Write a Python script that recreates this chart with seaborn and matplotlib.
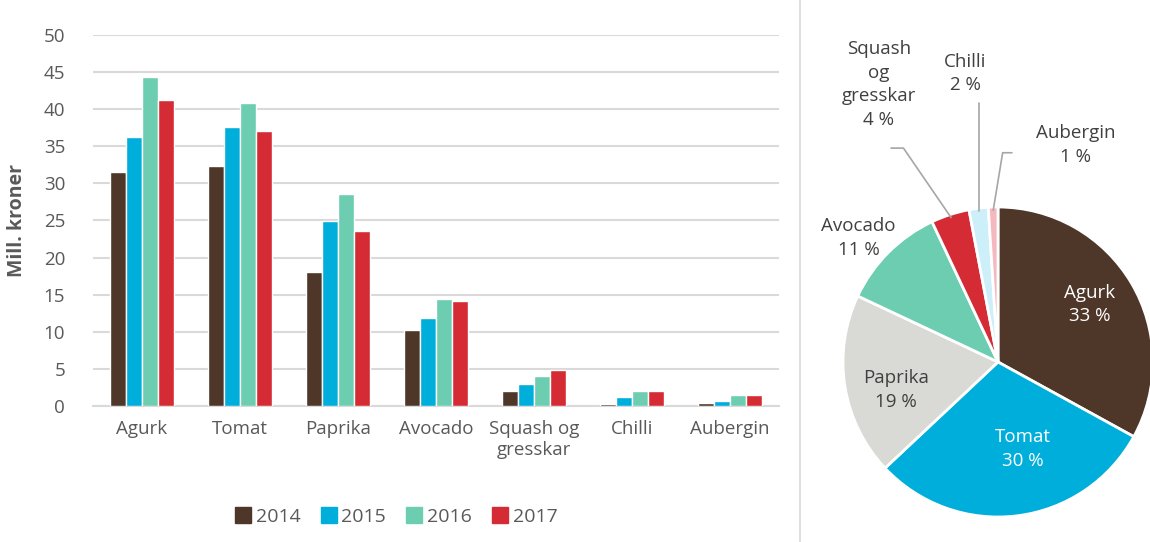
import numpy as np
import pandas as pd
import seaborn as sns
import matplotlib.pyplot as plt
from matplotlib.lines import Line2D

# data
kategorier = ['Agurk', 'Tomat', 'Paprika', 'Avocado', 'Squash og\ngresskar', 'Chilli', 'Aubergin']
aar = ['2014', '2015', '2016', '2017']
v2014 = [31.5, 32.4, 18.1, 10.2, 2.0, 0.3, 0.45]
v2015 = [36.3, 37.6, 24.9, 11.9, 3.0, 1.2, 0.65]
v2016 = [44.4, 40.9, 28.6, 14.4, 4.0, 2.0, 1.5]
v2017 = [41.3, 37.1, 23.6, 14.2, 4.9, 2.0, 1.5]

pie_navn = ['Agurk', 'Tomat', 'Paprika', 'Avocado', 'Squash\nog\ngresskar', 'Chilli', 'Aubergin']
pie_andel = [33, 30, 19, 11, 4, 2, 1]

bar_farger = ['#4E3629', '#00AEDB', '#6DCDB1', '#D52B34']
pie_farger = ['#4E3629', '#00AEDB', '#D9D9D6', '#6DCDB1', '#D52B34', '#CCEFFA', '#F4B9BE']

sns.set_theme(style='white')
plt.rcParams['font.family'] = ['Open Sans', 'DejaVu Sans']
tekst = '#595959'

df = pd.DataFrame({'kategori': kategorier * 4,
                   'aar': np.repeat(aar, len(kategorier)),
                   'verdi': v2014 + v2015 + v2016 + v2017})

fig = plt.figure(figsize=(11.5, 5.42), dpi=100)
W, H = 1150, 542

# --- bar chart ---
ax = fig.add_axes([93 / W, (H - 406) / H, 686 / W, 371 / H])
sns.barplot(data=df, x='kategori', y='verdi', hue='aar', palette=bar_farger,
            saturation=1, width=0.66, ax=ax, legend=False, zorder=3)
ax.set_ylim(0, 50)
ax.set_yticks(range(0, 55, 5))
ax.set_xlim(-0.5, len(kategorier) - 0.5)
ax.grid(axis='y', color='#D9D9D9', linewidth=1.5, zorder=0)
for s in ['top', 'right', 'left']:
    ax.spines[s].set_visible(False)
ax.spines['bottom'].set_color('#D9D9D9')
ax.spines['bottom'].set_linewidth(1.5)
ax.tick_params(axis='both', length=0, labelsize=13.5, colors=tekst, pad=10)
ax.tick_params(axis='y', pad=20)
ax.set_xlabel('')
ax.set_ylabel('Mill. kroner', fontsize=14, fontweight='bold', color=tekst, labelpad=12)

handles = [Line2D([], [], marker='s', linestyle='', markersize=11, color=c) for c in bar_farger]
fig.legend(handles, aar, loc='center', bbox_to_anchor=(397 / W, 1 - 517 / H), ncol=4,
           frameon=False, fontsize=14, labelcolor=tekst, handlelength=0.7,
           handletextpad=0.3, columnspacing=1.1)

# divider
fig.add_artist(Line2D([800 / W, 800 / W], [0, 1], color='#D9D9D9', linewidth=1.2))

# --- pie chart ---
R = 155
pax = fig.add_axes([(998 - R) / W, (H - 362 - R) / H, 2 * R / W, 2 * R / H])
wedges, _ = pax.pie(pie_andel, colors=pie_farger, startangle=90, counterclock=False,
                    wedgeprops=dict(edgecolor='white', linewidth=2))
pax.set_xlim(-1, 1)
pax.set_ylim(-1, 1)
pax.set_aspect('equal')
for w in wedges:
    w.set_clip_on(False)

# label positions (relative to pie radius)
pos = [(0.59, 0.37), (0.16, -0.56), (-0.66, -0.18), (-0.90, 0.80),
       (-0.77, 1.79), (-0.21, 1.86), (0.50, 1.40)]
farge_tekst = ['white', 'white', '#404040', '#404040', '#404040', '#404040', '#404040']
for navn, p, (x, y), c in zip(pie_navn, pie_andel, pos, farge_tekst):
    pax.text(x, y, f'{navn}\n{p} %', ha='center', va='center', fontsize=13.5,
             color=c, linespacing=1.4)

# leader lines for the small slices
def mid(w):
    a = np.deg2rad((w.theta1 + w.theta2) / 2)
    return np.cos(a), np.sin(a)

mx, my = mid(wedges[4])
pax.plot([-0.69, -0.61, mx * 0.98], [1.38, 1.38, my * 0.98], color='#A6A6A6', lw=1.2, clip_on=False)
mx, my = mid(wedges[5])
pax.plot([mx, mx], [1.67, my * 0.98], color='#A6A6A6', lw=1.2, clip_on=False)
mx, my = mid(wedges[6])
pax.plot([0.09, 0.03, mx * 0.98], [1.35, 1.35, my * 0.98], color='#A6A6A6', lw=1.2, clip_on=False)

fig.savefig('out.png', dpi=100)
